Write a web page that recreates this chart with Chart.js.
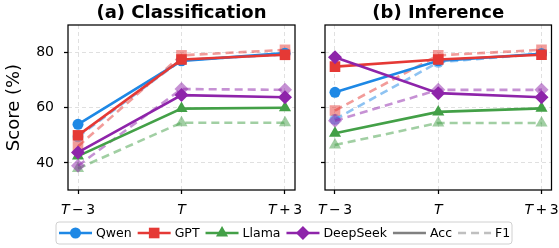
<!DOCTYPE html>
<html>
<head>
<meta charset="utf-8">
<script src="https://cdn.jsdelivr.net/npm/chart.js@4/dist/chart.umd.min.js"></script>
<style>
  html, body { margin: 0; padding: 0; background: #fff; }
  #wrap { position: relative; width: 559px; height: 248px; }
  #wrap canvas { position: absolute; left: 0; top: 0; }
</style>
</head>
<body>
<div id="wrap">
  <canvas id="cA" width="559" height="248"></canvas>
  <canvas id="cB" width="559" height="248"></canvas>
</div>
<script>
// ====== data ======
const steps      = [-3, 0, 3];
const tickLabels = ['T − 3', 'T', 'T + 3'];
const yTicks     = [40, 60, 80];
const models     = ['Qwen', 'GPT', 'Llama', 'DeepSeek'];
const metrics    = ['Acc', 'F1'];
const titles     = ['(a) Classification', '(b) Inference'];

// rows follow models order: Qwen, GPT, Llama, DeepSeek
const clsAcc = [[54.0, 77.0, 79.8], [50.0, 77.5, 79.2], [42.5, 59.7, 60.0], [43.8, 64.6, 63.8]];
const clsF1  = [[49.5, 77.3, 79.3], [46.0, 79.0, 81.0], [38.0, 54.6, 54.6], [39.0, 66.8, 66.5]];
const infAcc = [[65.6, 77.0, 79.6], [74.9, 77.5, 79.2], [50.8, 58.5, 59.8], [78.3, 65.3, 63.8]];
const infF1  = [[55.8, 76.5, 79.6], [59.0, 79.0, 81.0], [46.5, 54.5, 54.5], [55.3, 66.5, 66.5]];

// ====== styles ======
const colors  = ['30,136,229', '229,57,53', '67,160,71', '142,36,170'];
const markers = ['circle', 'rect', 'triangle', 'rectRot'];
const radii   = [5.5, 7.5, 7, 7];
const FONT = '"DejaVu Sans", sans-serif';
const f1Dash = [8, 5];

const rgba = (c, a) => `rgba(${c},${a})`;

function buildSets(acc, f1) {
  const sets = [];
  models.forEach((m, i) => {
    [[acc, 1, []], [f1, 0.5, f1Dash]].forEach(([src, alpha, dash], k) => {
      sets.push({
        label: m + ' ' + metrics[k],
        data: steps.map((s, j) => ({ x: s, y: src[i][j] })),
        borderColor: rgba(colors[i], alpha),
        backgroundColor: rgba(colors[i], alpha),
        borderWidth: 2.6,
        borderDash: dash,
        pointStyle: markers[i],
        pointRadius: radii[i],
        pointBorderWidth: 0,
        pointBackgroundColor: rgba(colors[i], alpha),
        tension: 0,
        // Acc on top of F1, later models on top of earlier ones
        order: (k === 0 ? 0 : 4) + (3 - i),
      });
    });
  });
  return sets;
}

// ====== small drawing helpers ======
function drawMarker(ctx, style, r, x, y) {
  ctx.beginPath();
  if (style === 'circle') {
    ctx.arc(x, y, r, 0, Math.PI * 2);
  } else if (style === 'rect') {
    const h = r * Math.SQRT1_2;
    ctx.rect(x - h, y - h, 2 * h, 2 * h);
  } else if (style === 'triangle') {
    ctx.moveTo(x, y - r);
    ctx.lineTo(x + r * 0.866, y + r / 2);
    ctx.lineTo(x - r * 0.866, y + r / 2);
    ctx.closePath();
  } else {
    ctx.moveTo(x, y - r); ctx.lineTo(x + r, y); ctx.lineTo(x, y + r); ctx.lineTo(x - r, y);
    ctx.closePath();
  }
  ctx.fill();
}

function drawMathLabel(ctx, label, cx, cy) {
  const parts = label.split(' ');
  const fonts = parts.map((p, i) => (i === 0 ? 'italic ' : '') + '14px ' + FONT);
  const gap = 2.5;
  const w = parts.map((p, i) => { ctx.font = fonts[i]; return ctx.measureText(p).width; });
  let x = cx - (w.reduce((a, b) => a + b, 0) + gap * (parts.length - 1)) / 2;
  ctx.textAlign = 'left';
  ctx.textBaseline = 'middle';
  parts.forEach((p, i) => {
    ctx.font = fonts[i];
    ctx.fillText(p, x, cy);
    x += w[i] + gap;
  });
}

function drawLegend(ctx) {
  ctx.save();
  ctx.beginPath();
  ctx.roundRect(56, 222, 456, 22, 3);
  ctx.fillStyle = 'rgba(255,255,255,0.8)';
  ctx.fill();
  ctx.strokeStyle = '#d0d0d0';
  ctx.lineWidth = 1;
  ctx.stroke();

  const items = models.map((m, i) => ({ label: m, color: rgba(colors[i], 1), marker: markers[i], r: radii[i], dash: [] }));
  items.push({ label: metrics[0], color: 'rgba(128,128,128,1)', dash: [] });
  items.push({ label: metrics[1], color: 'rgba(128,128,128,0.5)', dash: f1Dash });

  const cy = 233;
  let x = 59;
  ctx.font = '12.5px ' + FONT;
  ctx.textBaseline = 'middle';
  ctx.textAlign = 'left';
  items.forEach(it => {
    ctx.strokeStyle = it.color;
    ctx.lineWidth = 2.6;
    ctx.setLineDash(it.dash);
    ctx.beginPath(); ctx.moveTo(x, cy); ctx.lineTo(x + 33, cy); ctx.stroke();
    ctx.setLineDash([]);
    if (it.marker) { ctx.fillStyle = it.color; drawMarker(ctx, it.marker, it.r, x + 16.5, cy); }
    ctx.fillStyle = '#000';
    ctx.fillText(it.label, x + 37, cy + 0.5);
    x += 37 + ctx.measureText(it.label).width + 6;
  });
  ctx.restore();
}

const decor = {
  id: 'decor',
  afterDraw(chart, args, o) {
    const { ctx, chartArea: a, scales: { x } } = chart;
    ctx.save();
    ctx.strokeStyle = '#000';
    ctx.lineWidth = 1.25;
    ctx.strokeRect(a.left, a.top, a.right - a.left, a.bottom - a.top);
    ctx.fillStyle = '#000';
    ctx.font = 'bold 18px ' + FONT;
    ctx.textAlign = 'center';
    ctx.textBaseline = 'middle';
    ctx.fillText(o.title, (a.left + a.right) / 2, 13);
    steps.forEach((s, i) => drawMathLabel(ctx, tickLabels[i], x.getPixelForValue(s), 210));
    if (o.legend) drawLegend(ctx);
    ctx.restore();
  }
};

// ====== charts ======
function makeChart(id, acc, f1, p) {
  return new Chart(document.getElementById(id), {
    type: 'line',
    data: { datasets: buildSets(acc, f1) },
    plugins: [decor],
    options: {
      responsive: false,
      animation: false,
      devicePixelRatio: 1,
      layout: { padding: { left: p.padLeft, right: p.padRight, top: 25, bottom: 0 } },
      plugins: {
        legend: { display: false },
        tooltip: { enabled: false },
        decor: { title: p.title, legend: p.legend },
      },
      scales: {
        x: {
          type: 'linear', min: -3.29, max: 3.29,
          afterBuildTicks: s => { s.ticks = steps.map(v => ({ value: v })); },
          afterFit: s => { s.height = 58; },
          ticks: { autoSkip: false, callback: () => '' },
          grid: { color: 'rgba(0,0,0,0.12)', lineWidth: 1, tickLength: 4, tickColor: '#000', tickWidth: 1.25 },
          border: { display: false, dash: [4, 3] },
        },
        y: {
          min: 30.2, max: 90,
          afterBuildTicks: s => { s.ticks = yTicks.map(v => ({ value: v })); },
          afterFit: s => { s.width = p.yWidth; },
          ticks: {
            padding: 10, color: '#000', font: { family: FONT, size: 14 },
            callback: v => p.showY ? String(v) : '',
          },
          title: {
            display: p.showY, text: 'Score (%)', color: '#000',
            font: { family: FONT, size: 18 }, padding: { top: 4, bottom: 0 },
          },
          grid: { color: 'rgba(0,0,0,0.12)', lineWidth: 1, tickLength: 4, tickColor: '#000', tickWidth: 1.25 },
          border: { display: false, dash: [4, 3] },
        },
      },
    },
  });
}

makeChart('cA', clsAcc, clsF1, { title: titles[0], padLeft: 0, padRight: 264, yWidth: 68, showY: true, legend: true });
makeChart('cB', infAcc, infF1, { title: titles[1], padLeft: 300, padRight: 7, yWidth: 25, showY: false, legend: false });
</script>
</body>
</html>
